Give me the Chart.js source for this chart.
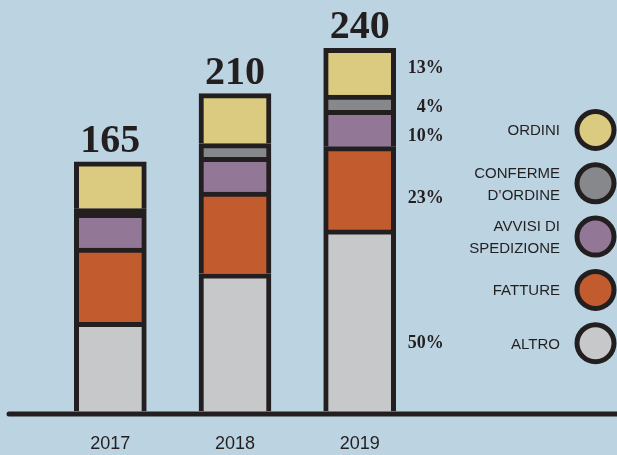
<!DOCTYPE html>
<html>
<head>
<meta charset="utf-8">
<script src="https://cdn.jsdelivr.net/npm/chart.js@4"></script>
<style>
  html, body { margin: 0; padding: 0; background: #bcd3e1; }
  #wrap { width: 617px; height: 455px; position: relative; }
</style>
</head>
<body>
<div id="wrap"><canvas id="chart"></canvas></div>
<script>
// Data
const years = ["2017", "2018", "2019"];
const seriesNames = ["ALTRO", "FATTURE", "AVVISI DI\nSPEDIZIONE", "CONFERME\nD’ORDINE", "ORDINI"];
const altro = [59, 91, 120];
const fatture = [49, 54, 55];
const avvisi = [23, 23, 24];
const conferme = [3, 9, 10];
const ordini = [31, 33, 31];
const totals = [165, 210, 240];
const shares2019 = ["50%", "23%", "10%", "4%", "13%"];

const colors = ["#c7c8ca", "#c25b2d", "#927896", "#87888b", "#dbcb80"];
const ink = "#231f20";

const seriesValues = [altro, fatture, avvisi, conferme, ordini];

// Baseline, totals, 2019 shares and legend
const decorations = {
    id: "decorations",
    afterDatasetsDraw(chart) {
        const { ctx } = chart;
        const yScale = chart.scales.y;
        const base = yScale.getPixelForValue(0);

        ctx.save();
        ctx.strokeStyle = ink;
        ctx.lineWidth = 5;
        ctx.lineCap = "round";
        ctx.beginPath();
        ctx.moveTo(9, base + 2.5);
        ctx.lineTo(chart.width + 5, base + 2.5);
        ctx.stroke();

        // totals above bars
        const topMeta = chart.getDatasetMeta(chart.data.datasets.length - 1);
        ctx.fillStyle = ink;
        ctx.textAlign = "center";
        ctx.textBaseline = "alphabetic";
        ctx.font = "bold 40px 'Liberation Serif'";
        topMeta.data.forEach((bar, i) => {
            ctx.fillText(String(totals[i]), bar.x, yScale.getPixelForValue(totals[i]) - 10);
        });

        // shares next to the 2019 bar
        const lastBar = topMeta.data[years.length - 1];
        const shareBaselines = [348, 203, 140.7, 111.7, 73.3];
        ctx.textAlign = "right";
        ctx.font = "bold 18px 'Liberation Serif'";
        shares2019.forEach((txt, i) => {
            ctx.fillText(txt, lastBar.x + 84, shareBaselines[i]);
        });

        // legend, top to bottom = top of stack first
        ctx.font = "15px 'Liberation Sans'";
        const order = [4, 3, 2, 1, 0];
        order.forEach((ds, k) => {
            const cy = 130 + k * 53.3;
            ctx.beginPath();
            ctx.arc(595.5, cy, 18.5, 0, Math.PI * 2);
            ctx.fillStyle = colors[ds];
            ctx.fill();
            ctx.lineWidth = 5;
            ctx.strokeStyle = ink;
            ctx.stroke();

            const lines = seriesNames[ds].split("\n");
            ctx.fillStyle = ink;
            const lh = 21.7;
            const first = cy + 5.4 - (lines.length - 1) * lh / 2;
            lines.forEach((ln, j) => ctx.fillText(ln, 560, first + j * lh));
        });
        ctx.restore();
    }
};

const ctx = document.getElementById("chart");
new Chart(ctx, {
    type: "bar",
    data: {
        labels: years,
        datasets: seriesValues.map((vals, i) => ({
            label: seriesNames[i],
            data: vals,
            // very thin segments disappear under the outline
            backgroundColor: c => (c.raw < 5 ? ink : colors[i]),
            borderColor: ink,
            borderWidth: 5,
            borderSkipped: "start",
            barThickness: 72
        }))
    },
    options: {
        responsive: true,
        maintainAspectRatio: false,
        animation: false,
        layout: { padding: { left: 48, right: 195, top: 18, bottom: 0 } },
        plugins: { legend: { display: false }, tooltip: { enabled: false } },
        scales: {
            x: {
                stacked: true,
                grid: { display: false, drawTicks: false },
                border: { display: false },
                afterFit: s => { s.height = 43.5; },
                ticks: {
                    padding: 22,
                    color: ink,
                    font: { family: "'Liberation Sans'", size: 18 }
                }
            },
            y: {
                stacked: true,
                display: false,
                min: 0,
                max: 260
            }
        }
    },
    plugins: [decorations]
});
</script>
</body>
</html>
